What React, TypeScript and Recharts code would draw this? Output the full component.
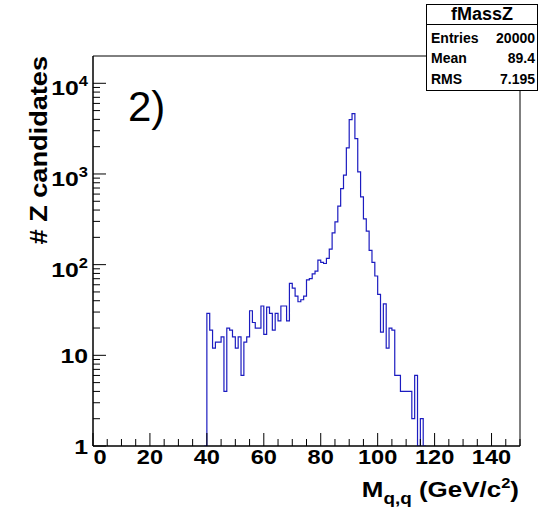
import { Line, LineChart, ReferenceArea, XAxis, YAxis } from "recharts";

// counts per 1 GeV bin, first bin starts at 40 GeV
const firstBin = 40;
const counts = [
  29, 19, 12, 14, 14, 16, 4, 20, 19, 16,
  12, 16, 6, 14, 16, 31, 23, 20, 20, 35,
  17, 34, 29, 19, 29, 24, 35, 35, 24, 62,
  55, 45, 39, 41, 45, 68, 70, 79, 85, 112,
  106, 103, 117, 148, 224, 297, 441, 691, 969, 1936,
  3984, 4637, 2459, 1054, 558, 320, 234, 144, 106, 75,
  47, 18, 37, 12, 20, 19, 6, 6, 4, 4,
  4, 4, 2, 6, 0, 2, 0,
];

const xMajor = [0, 20, 40, 60, 80, 100, 120, 140];
const yMajor = [1, 10, 100, 1000, 10000];
const yMajorLabels = ["1", "10", "10|2", "10|3", "10|4"];
const statsRows = [
  ["Entries", "20000"],
  ["Mean", "89.4"],
  ["RMS", "7.195"],
];

const W = 542;
const H = 509;
const PLOT_L = 93;
const PLOT_T = 56;
const PLOT_R = 520;
const PLOT_B = 446;
const X_MAX = 150;
const Y_MIN = 1;
const Y_MAX = 20000;
const FONT = "'Liberation Sans', Arial, Helvetica, sans-serif";
const SX = 1.18; // axis text in the reference is a bit wider than Arial

const xTicks: number[] = [];
for (let v = 0; v <= X_MAX; v += 5) xTicks.push(v);
const yTicks: number[] = [];
for (let d = 1; d < Y_MAX; d *= 10) {
  for (let m = 1; m <= 9; m++) if (m * d < Y_MAX) yTicks.push(m * d);
}

const rows = [
  { m: firstBin - 1, n: Y_MIN },
  ...counts.map((c, i) => ({ m: firstBin + i, n: Math.max(c, Y_MIN) })),
  { m: firstBin + counts.length, n: Y_MIN },
];

function XTick(props: any) {
  const v = props.payload.value;
  const x = props.x;
  const major = xMajor.includes(v);
  return (
    <g>
      <line x1={x} x2={x} y1={PLOT_B} y2={PLOT_B - (major ? 13 : 7)} stroke="#000" />
      {major && (
        <text
          transform={`translate(${x + (v === 0 ? 7 : 0)} 463.5) scale(${SX} 1)`}
          textAnchor="middle"
          fontFamily={FONT}
          fontWeight="bold"
          fontSize={20}
          fill="#000"
        >
          {v}
        </text>
      )}
    </g>
  );
}

function YTick(props: any) {
  const v = props.payload.value;
  const y = props.y;
  const idx = yMajor.indexOf(v);
  const major = idx >= 0;
  let label = null;
  if (major) {
    const [base, sup] = yMajorLabels[idx].split("|");
    label = (
      <text
        transform={`translate(88 ${y + (sup ? 12 : 7.5)}) scale(${SX} 1)`}
        textAnchor="end"
        fontFamily={FONT}
        fontWeight="bold"
        fontSize={21}
        fill="#000"
      >
        {base}
        {sup && (
          <tspan dy={-9} fontSize={14}>
            {sup}
          </tspan>
        )}
      </text>
    );
  }
  return (
    <g>
      <line x1={PLOT_L} x2={PLOT_L + (major ? 13 : 7)} y1={y} y2={y} stroke="#000" />
      {label}
    </g>
  );
}

export default function App() {
  return (
    <div style={{ position: "absolute", left: 0, top: 0, width: W, height: H, background: "#fff" }}>
      <LineChart
        width={W}
        height={H}
        data={rows}
        margin={{ top: PLOT_T, right: W - PLOT_R, bottom: 0, left: 0 }}
      >
        <XAxis
          dataKey="m"
          type="number"
          domain={[0, X_MAX]}
          ticks={xTicks}
          interval={0}
          tick={(p: any) => <XTick {...p} />}
          tickLine={false}
          axisLine={{ stroke: "#000" }}
          height={H - PLOT_B}
          allowDataOverflow
        />
        <YAxis
          scale="log"
          domain={[Y_MIN, Y_MAX]}
          ticks={yTicks}
          interval={0}
          tick={(p: any) => <YTick {...p} />}
          tickLine={false}
          axisLine={{ stroke: "#000" }}
          width={PLOT_L}
          allowDataOverflow
        />
        <ReferenceArea x1={0} x2={X_MAX} y1={Y_MIN} y2={Y_MAX} fill="none" stroke="#000" />
        <Line
          type="stepAfter"
          dataKey="n"
          stroke="#1c1cc0"
          strokeWidth={1.2}
          dot={false}
          isAnimationActive={false}
        />
      </LineChart>
      <svg
        width={W}
        height={H}
        style={{ position: "absolute", left: 0, top: 0, pointerEvents: "none" }}
        fontFamily={FONT}
      >
        <text x={128} y={121} fontSize={42} fill="#000">
          2)
        </text>
        <text
          transform={`translate(47 56) rotate(-90) scale(${SX} 1)`}
          textAnchor="end"
          fontWeight="bold"
          fontSize={23}
          fill="#000"
        >
          {"# Z candidates"}
        </text>
        <text
          transform={`translate(519 497) scale(${SX} 1)`}
          textAnchor="end"
          fontWeight="bold"
          fontSize={22}
          fill="#000"
        >
          M
          <tspan dy={7} fontSize={16}>
            q,q
          </tspan>
          <tspan dy={-7}> (GeV/c</tspan>
          <tspan dy={-9} fontSize={14}>
            2
          </tspan>
          <tspan dy={9}>)</tspan>
        </text>
        <rect x={426.5} y={4.5} width={111} height={86} fill="#fff" stroke="#000" />
        <line x1={426.5} x2={537.5} y1={24.5} y2={24.5} stroke="#000" />
        <text x={482} y={20} textAnchor="middle" fontWeight="bold" fontSize={18} fill="#000">
          fMassZ
        </text>
        {statsRows.map(([k, v], i) => (
          <g key={k}>
            <text x={431} y={43 + i * 20.3} fontWeight="bold" fontSize={14} fill="#000">
              {k}
            </text>
            <text x={535} y={43 + i * 20.3} textAnchor="end" fontWeight="bold" fontSize={14} fill="#000">
              {v}
            </text>
          </g>
        ))}
      </svg>
    </div>
  );
}
